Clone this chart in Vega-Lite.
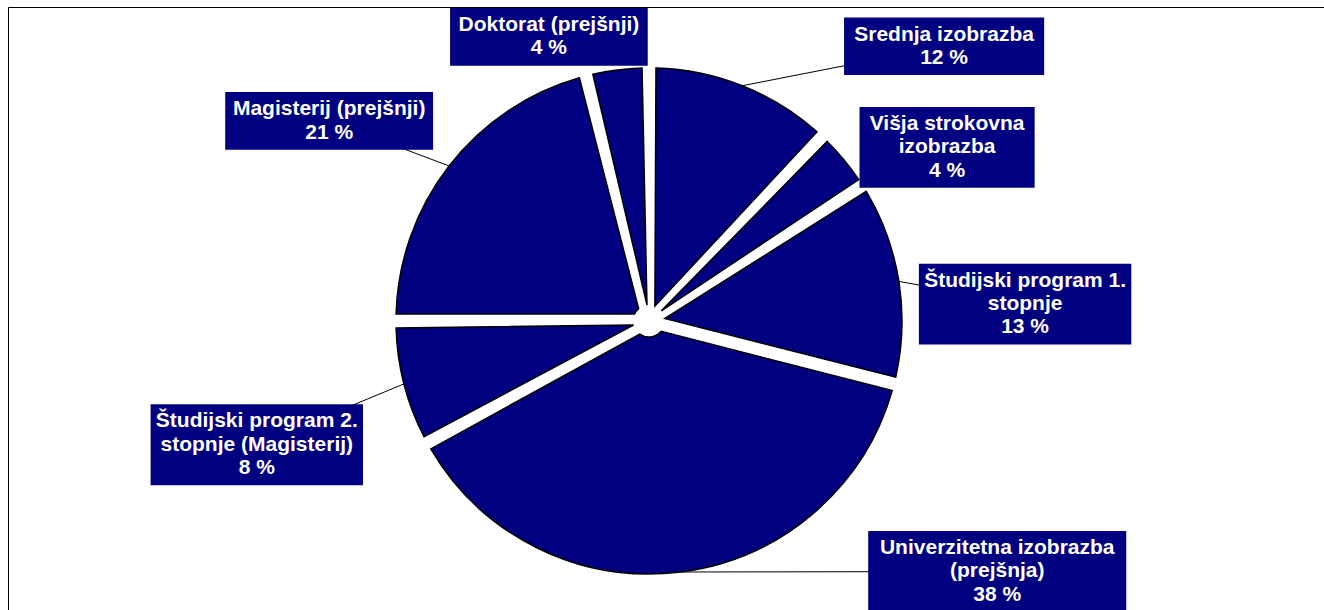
{
  "$schema": "https://vega.github.io/schema/vega-lite/v6.json",
  "width": 1316,
  "height": 603,
  "autosize": {"type": "none"},
  "padding": {"left": 8, "top": 7, "right": 0, "bottom": 0},
  "background": "white",
  "config": {"view": {"stroke": "#000000", "strokeWidth": 1}},
  "data": {
    "values": [
      {"ord": 1, "lbl": "Srednja izobrazba", "pct": 12},
      {"ord": 2, "lbl": "Višja strokovna\nizobrazba", "pct": 4},
      {"ord": 3, "lbl": "Študijski program 1.\nstopnje", "pct": 13},
      {"ord": 4, "lbl": "Univerzitetna izobrazba\n(prejšnja)", "pct": 38},
      {"ord": 5, "lbl": "Študijski program 2.\nstopnje (Magisterij)", "pct": 8},
      {"ord": 6, "lbl": "Magisterij (prejšnji)", "pct": 21},
      {"ord": 7, "lbl": "Doktorat (prejšnji)", "pct": 4}
    ]
  },
  "transform": [
    {"joinaggregate": [{"op": "sum", "field": "pct", "as": "total"}]},
    {"window": [{"op": "sum", "field": "pct", "as": "cum"}], "sort": [{"field": "ord", "order": "ascending"}], "frame": [null, 0]},
    {"calculate": "2*PI*(datum.cum - datum.pct/2)/datum.total", "as": "ang"},
    {"calculate": "sin(datum.ang)", "as": "s"},
    {"calculate": "cos(datum.ang)", "as": "c"},
    {"calculate": "split(datum.lbl, '\\n')", "as": "lines"},
    {"calculate": "datum.lbl + '\\n' + datum.pct + ' %'", "as": "txt"},
    {"calculate": "length(datum.lines) + 1", "as": "nl"},
    {"calculate": "datum.lines[0]", "as": "l0"},
    {"calculate": "length(datum.lines) > 1 ? datum.lines[1] : ''", "as": "l1"},
    {"calculate": "12.5*length(datum.l0) - 6.66*(length(datum.l0) - length(replace(datum.l0, regexp('[ijl. ]', 'g'), ''))) - 5.2*(length(datum.l0) - length(replace(datum.l0, regexp('[rtf()]', 'g'), '')))", "as": "w0"},
    {"calculate": "12.5*length(datum.l1) - 6.66*(length(datum.l1) - length(replace(datum.l1, regexp('[ijl. ]', 'g'), ''))) - 5.2*(length(datum.l1) - length(replace(datum.l1, regexp('[rtf()]', 'g'), '')))", "as": "w1"},
    {"calculate": "(max(datum.w0, datum.w1) + 18)/506", "as": "hw"},
    {"calculate": "(datum.nl*23.3 + 11)/506", "as": "hh"},
    {"calculate": "datum.s*(1.08 + 1.1*clamp((datum.c - 0.7)/0.2, 0, 1) + 0.35*max(0, -datum.c)) + datum.hw*clamp(2.5*datum.s, -1, 1)", "as": "cx0"},
    {"calculate": "datum.c*1.05 + datum.hh*datum.c - 0.06*abs(datum.s) + 0.035*clamp((datum.c - 0.7)/0.2, 0, 1) + (datum.s < 0 ? 0.34*abs(datum.s)*datum.c - 0.05*abs(datum.s) : -0.065*datum.s*datum.s)", "as": "cy0"},
    {"calculate": "clamp(datum.cy0, -1.15 + datum.hh, 1.237 - datum.hh)", "as": "cy"},
    {"calculate": "datum.cy0 - datum.hh < -1.15 ? (datum.s >= 0 ? 1 : -1)*max(abs(datum.cx0), sqrt(max(0, 1.44 - pow(datum.cy + datum.hh, 2))) + datum.hw) : datum.cx0", "as": "cx"},
    {"calculate": "datum.cy + (datum.nl - 1)*23.3/2/253", "as": "ty"},
    {"calculate": "datum.cx - datum.hw", "as": "bx1"},
    {"calculate": "datum.cx + datum.hw", "as": "bx2"},
    {"calculate": "datum.cy - datum.hh", "as": "by1"},
    {"calculate": "datum.cy + datum.hh", "as": "by2"},
    {"calculate": "sqrt(pow(max(0, abs(datum.s - datum.cx) - datum.hw), 2) + pow(max(0, abs(datum.c - datum.cy) - datum.hh), 2))", "as": "ldist"}
  ],
  "layer": [
    {
      "transform": [{"filter": "datum.ldist > 0.075"}],
      "mark": {"type": "rule", "color": "#000000", "strokeWidth": 1},
      "encoding": {
        "x": {"field": "s", "type": "quantitative", "scale": {"domain": [-2.5336, 2.668], "nice": false, "zero": false}, "axis": null},
        "y": {"field": "c", "type": "quantitative", "scale": {"domain": [-1.1423, 1.2411], "nice": false, "zero": false}, "axis": null},
        "x2": {"field": "cx"},
        "y2": {"field": "cy"}
      }
    },
    {
      "mark": {"type": "arc", "outerRadius": 253, "innerRadius": 16, "padAngle": 0.055, "fill": "#000080", "stroke": "#000000", "strokeWidth": 1.5},
      "encoding": {
        "theta": {"field": "pct", "type": "quantitative", "stack": true},
        "order": {"field": "ord", "type": "quantitative"},
        "x": {"datum": 0, "type": "quantitative", "scale": {"domain": [-2.5336, 2.668], "nice": false, "zero": false}, "axis": null},
        "y": {"datum": 0, "type": "quantitative", "scale": {"domain": [-1.1423, 1.2411], "nice": false, "zero": false}, "axis": null}
      }
    },
    {
      "mark": {"type": "rect", "fill": "#000080"},
      "encoding": {
        "x": {"field": "bx1", "type": "quantitative", "scale": {"domain": [-2.5336, 2.668], "nice": false, "zero": false}, "axis": null},
        "x2": {"field": "bx2"},
        "y": {"field": "by1", "type": "quantitative", "scale": {"domain": [-1.1423, 1.2411], "nice": false, "zero": false}, "axis": null},
        "y2": {"field": "by2"}
      }
    },
    {
      "mark": {"type": "text", "color": "#ffffff", "font": "Liberation Sans", "fontWeight": "bold", "fontSize": 21, "lineHeight": 23.3, "lineBreak": "\n", "align": "center", "baseline": "middle"},
      "encoding": {
        "x": {"field": "cx", "type": "quantitative", "scale": {"domain": [-2.5336, 2.668], "nice": false, "zero": false}, "axis": null},
        "y": {"field": "ty", "type": "quantitative", "scale": {"domain": [-1.1423, 1.2411], "nice": false, "zero": false}, "axis": null},
        "text": {"field": "txt"}
      }
    }
  ]
}
